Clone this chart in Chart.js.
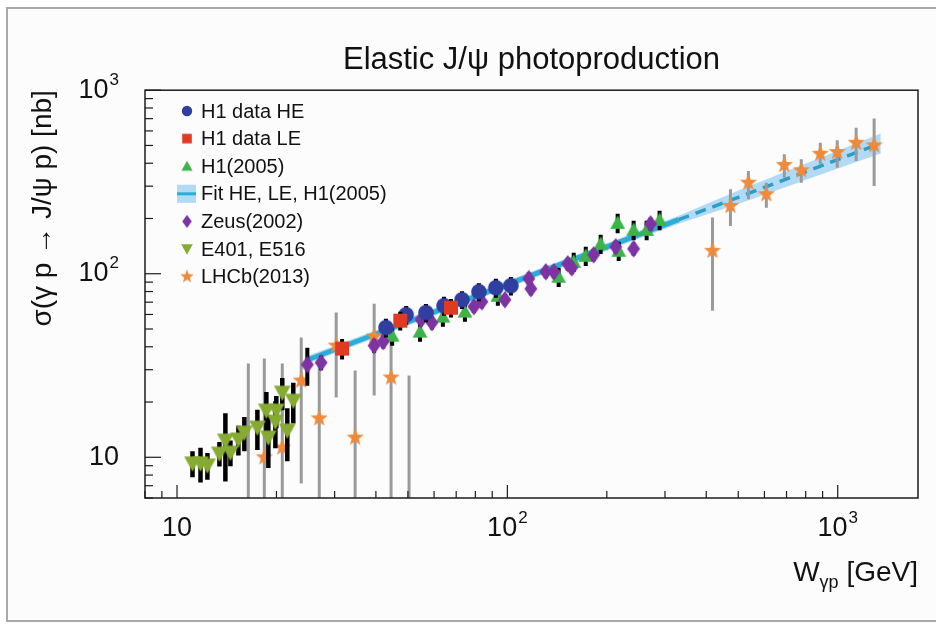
<!DOCTYPE html>
<html>
<head>
<meta charset="utf-8">
<script src="https://cdn.jsdelivr.net/npm/chart.js@4.4.1/dist/chart.umd.min.js"></script>
<style>
  html, body { margin: 0; padding: 0; background: #fff; }
  #wrap { width: 936px; height: 627px; }
</style>
</head>
<body>
<div id="wrap"><canvas id="chart" width="936" height="627"></canvas></div>
<script>
// H1 data HE
const heW = [42.9, 49.4, 56.7, 64.3, 72.9, 82.0, 92.3, 102.5];
const heSigma = [50.9, 59.8, 61.4, 67.0, 72.2, 79.8, 83.9, 86.1];
const heErr = [6, 7, 7, 8, 8, 9, 10, 10];

// H1 data LE
const leW = [31.6, 47.4, 67.5];
const leSigma = [39.1, 55.5, 65.3];
const leErr = [5, 6.5, 7.5];

// H1(2005)
const h05W = [44.8, 54.4, 63.8, 74.4, 93.6, 143.0, 158.8, 172.7, 191.6, 215.7, 217.3, 241.1, 264.0, 288.9];
const h05Sigma = [46.0, 48.4, 58.4, 62.2, 75.9, 96.3, 116.2, 125.3, 145.6, 189.3, 133.4, 173.4, 173.4, 196.6];
const h05Err = [5.5, 5.8, 7, 7.5, 9, 11.5, 14, 15, 17.5, 23, 16, 21, 21, 24];

// Zeus(2002)
const zeusW = [24.8, 27.3, 39.5, 42.1, 54.8, 59.1, 79.2, 83.7, 98.3, 116.1, 117.8, 130.7, 138.2, 152.3, 156.6, 182.5, 212.7, 241.1, 271.3];
const zeusSigma = [32.0, 32.8, 40.6, 42.7, 56.2, 54.2, 66.2, 70.4, 72.2, 94.0, 82.9, 102.5, 102.5, 113.3, 107.8, 126.9, 140.2, 136.8, 187.0];
const zeusErr = [7.5, 3, 3.5, 3.5, 4.5, 4.5, 5, 5.5, 5.5, 7.5, 6.5, 8, 8, 9, 8.5, 10, 11, 11, 15];

// E401, E516
const e401W = [11.14, 11.78, 12.36, 13.44, 14.01, 14.51, 15.34, 15.99, 17.51, 18.64, 18.90, 19.85, 19.98, 20.83, 21.57, 22.49];
const e401Sigma = [9.28, 9.28, 9.05, 10.5, 12.37, 10.64, 12.53, 13.67, 14.56, 18.0, 12.84, 15.69, 18.0, 22.56, 14.02, 20.40];
const e401Err = [1.5, 2.0, 1.5, 1.6, 5.0, 1.7, 2.3, 2.9, 3.6, 4.7, 4.1, 4.5, 3.6, 4.5, 4.5, 5.1];

// LHCb(2013), asymmetric errors given as low / high ends
const lhcbW = [16.44, 18.38, 20.83, 23.77, 26.95, 30.33, 34.61, 39.52, 44.46, 50.4, 417.8, 473.5, 536.6, 608.1, 689.2, 775.7, 885.4, 996.5, 1137, 1289];
const lhcbSigma = [4, 10.0, 11.3, 26.2, 16.3, 40.6, 12.8, 45.5, 27.2, 3, 133.4, 234.2, 313.4, 271.2, 391.3, 366.1, 450.6, 460.3, 517.2, 500.6];
const lhcbLo = [1, 1, 1, 7.2, 1, 21.2, 1, 21.7, 1, 1, 62.9, 182.3, 254.7, 229.2, 333.7, 313.4, 394.7, 378.2, 411.3, 300.7];
const lhcbHi = [32.4, 34.5, 32.4, 44.9, 32.8, 61.4, 29.7, 68.7, 44.3, 27.9, 202.3, 288.6, 362.9, 313.4, 447.2, 420.2, 517.2, 533.0, 624.0, 701.9];

// fit HE, LE, H1(2005): solid over the data range, dashed beyond
const fitW = [25, 50, 100, 200, 330];
const fitSigma = [34.1, 54.6, 87.5, 140, 197];
const extW = [330, 500, 1000, 1350];
const extSigma = [197, 261, 419, 513];
const bandW = [25, 50, 100, 200, 330, 500, 1000, 1350];
const bandHi = [35.8, 57.2, 91.5, 146.5, 207, 284, 468, 580];
const bandLo = [32.5, 52.1, 83.6, 133.6, 187, 240, 375, 452];

// axes
const xMajor = [10, 100, 1000];
const xMinor = [8, 9, 20, 30, 40, 50, 60, 70, 80, 90, 200, 300, 400, 500, 600, 700, 800, 900];
const xLabels = [['10', ''], ['10', '2'], ['10', '3']];
const yMajor = [10, 100, 1000];
const yMinor = [6, 7, 8, 9, 20, 30, 40, 50, 60, 70, 80, 90, 200, 300, 400, 500, 600, 700, 800, 900];
const yLabels = [['10', ''], ['10', '2'], ['10', '3']];

const FONT = '"Liberation Sans", Arial, Helvetica, sans-serif';

const colors = {
  blue: '#2f3e9f',
  red: '#e03a22',
  green: '#3db34a',
  purple: '#7d33a1',
  olive: '#86aa32',
  orange: '#ef8a3b',
  gray: '#9a9a9a',
  fit: '#2aaed8',
  fitDash: '#2a9ec6',
  band: 'rgba(130, 195, 238, 0.6)'
};

function marker(shape, color, s) {
  const c = document.createElement('canvas');
  const n = 2 * Math.ceil(s + 2);
  c.width = n; c.height = n;
  const g = c.getContext('2d');
  g.translate(n / 2, n / 2);
  g.fillStyle = color;
  g.beginPath();
  if (shape === 'circle') g.arc(0, 0, s, 0, Math.PI * 2);
  else if (shape === 'square') g.rect(-s, -s, 2 * s, 2 * s);
  else if (shape === 'up') { g.moveTo(0, -s); g.lineTo(s, s * 0.8); g.lineTo(-s, s * 0.8); }
  else if (shape === 'down') { g.moveTo(0, s); g.lineTo(s, -s * 0.8); g.lineTo(-s, -s * 0.8); }
  else if (shape === 'diamond') { g.moveTo(0, -s); g.lineTo(s * 0.74, 0); g.lineTo(0, s); g.lineTo(-s * 0.74, 0); }
  else if (shape === 'star') {
    for (let i = 0; i < 10; i++) {
      const r = i % 2 ? s * 0.42 : s;
      const t = -Math.PI / 2 + i * Math.PI / 5;
      g.lineTo(r * Math.cos(t), r * Math.sin(t));
    }
  }
  g.closePath();
  g.fill();
  return c;
}

function pts(xs, ys) {
  return xs.map((v, i) => ({x: v, y: ys[i]}));
}

function symBars(ys, es, color, width) {
  return {lo: ys.map((v, i) => v - es[i]), hi: ys.map((v, i) => v + es[i]), color: color, width: width};
}

function scatterSet(label, xs, ys, style, bars, order) {
  return {label: label, data: pts(xs, ys), pointStyle: style, pointRadius: 8, bars: bars, order: order, showLine: false};
}

const datasets = [
  scatterSet('H1 data LE', leW, leSigma, marker('square', colors.red, 7), symBars(leSigma, leErr, '#000', 4), 0),
  scatterSet('H1 data HE', heW, heSigma, marker('circle', colors.blue, 7.8), symBars(heSigma, heErr, '#000', 4), 1),
  scatterSet('Zeus(2002)', zeusW, zeusSigma, marker('diamond', colors.purple, 8.8), symBars(zeusSigma, zeusErr, '#000', 4), 2),
  scatterSet('H1(2005)', h05W, h05Sigma, marker('up', colors.green, 7.4), symBars(h05Sigma, h05Err, '#000', 4), 3),
  scatterSet('E401, E516', e401W, e401Sigma, marker('down', colors.olive, 8.4), symBars(e401Sigma, e401Err, '#000', 4.5), 4),
  scatterSet('LHCb(2013)', lhcbW, lhcbSigma, marker('star', colors.orange, 9), {lo: lhcbLo, hi: lhcbHi, color: colors.gray, width: 3}, 5),
  {label: 'fit', data: pts(fitW, fitSigma), showLine: true, pointRadius: 0, borderColor: colors.fit, borderWidth: 5, fill: false, order: 6},
  {label: 'fit ext', data: pts(extW, extSigma), showLine: true, pointRadius: 0, borderColor: colors.fitDash, borderWidth: 3.5, borderDash: [11, 7], fill: false, order: 7},
  {label: 'band hi', data: pts(bandW, bandHi), showLine: true, pointRadius: 0, borderWidth: 0, borderColor: 'rgba(0,0,0,0)', backgroundColor: colors.band, fill: '+1', order: 8},
  {label: 'band lo', data: pts(bandW, bandLo), showLine: true, pointRadius: 0, borderWidth: 0, borderColor: 'rgba(0,0,0,0)', fill: false, order: 9}
];

const legendItems = [
  ['H1 data HE', marker('circle', colors.blue, 5.2)],
  ['H1 data LE', marker('square', colors.red, 4.8)],
  ['H1(2005)', marker('up', colors.green, 5.6)],
  ['Fit HE, LE, H1(2005)', 'fit'],
  ['Zeus(2002)', marker('diamond', colors.purple, 6.5)],
  ['E401, E516', marker('down', colors.olive, 5.8)],
  ['LHCb(2013)', marker('star', colors.orange, 7)]
];

function powText(ctx, base, exp, x, y, align, size) {
  ctx.font = size + 'px ' + FONT;
  const wb = ctx.measureText(base).width;
  ctx.font = Math.round(size * 0.62) + 'px ' + FONT;
  const we = exp ? ctx.measureText(exp).width + 1 : 0;
  const total = wb + we;
  let x0 = align === 'right' ? x - total : x - total / 2;
  ctx.textAlign = 'left';
  ctx.textBaseline = 'middle';
  ctx.font = size + 'px ' + FONT;
  ctx.fillText(base, x0, y);
  if (exp) {
    ctx.font = Math.round(size * 0.62) + 'px ' + FONT;
    ctx.fillText(exp, x0 + wb + 1, y - size * 0.38);
  }
}

const errorBars = {
  id: 'errorBars',
  beforeDatasetDraw(chart, args) {
    const ds = chart.data.datasets[args.index];
    if (!ds.bars) return;
    const {ctx, chartArea: a, scales: {x, y}} = chart;
    ctx.save();
    ctx.beginPath();
    ctx.rect(a.left, a.top, a.right - a.left, a.bottom - a.top);
    ctx.clip();
    ctx.strokeStyle = ds.bars.color;
    ctx.lineWidth = ds.bars.width;
    ds.data.forEach((p, i) => {
      const px = x.getPixelForValue(p.x);
      ctx.beginPath();
      ctx.moveTo(px, y.getPixelForValue(ds.bars.hi[i]));
      ctx.lineTo(px, Math.min(y.getPixelForValue(Math.max(ds.bars.lo[i], 0.5)), a.bottom + 5));
      ctx.stroke();
    });
    ctx.restore();
  }
};

const rootFrame = {
  id: 'rootFrame',
  beforeDraw(chart) {
    const ctx = chart.ctx;
    ctx.save();
    ctx.fillStyle = '#fcfcfd';
    ctx.fillRect(7, 8, 940, 613);
    ctx.strokeStyle = '#a9a9a9';
    ctx.lineWidth = 2;
    ctx.strokeRect(7, 8, 940, 613);
    ctx.restore();
  },
  afterDraw(chart) {
    const {ctx, chartArea: a, scales: {x, y}} = chart;
    ctx.save();
    ctx.strokeStyle = '#1c1c1c';
    ctx.lineWidth = 1.5;
    ctx.strokeRect(a.left, a.top, a.right - a.left, a.bottom - a.top);
    ctx.lineWidth = 1.2;
    const tick = (x1, y1, x2, y2) => { ctx.beginPath(); ctx.moveTo(x1, y1); ctx.lineTo(x2, y2); ctx.stroke(); };
    xMajor.forEach(v => { const px = x.getPixelForValue(v); tick(px, a.bottom, px, a.bottom - 13); });
    xMinor.forEach(v => { const px = x.getPixelForValue(v); tick(px, a.bottom, px, a.bottom - 7); });
    yMajor.forEach(v => { const py = y.getPixelForValue(v); tick(a.left, py, a.left + 16, py); });
    yMinor.forEach(v => { const py = y.getPixelForValue(v); tick(a.left, py, a.left + 8, py); });

    ctx.fillStyle = '#111';
    xMajor.forEach((v, i) => powText(ctx, xLabels[i][0], xLabels[i][1], x.getPixelForValue(v), a.bottom + 31, 'center', 27));
    yMajor.forEach((v, i) => powText(ctx, yLabels[i][0], yLabels[i][1], a.left - 26, y.getPixelForValue(v), 'right', 27));

    // x title with subscript
    const big = '28px ' + FONT, small = '18px ' + FONT;
    ctx.font = big; const wW = ctx.measureText('W').width; const wRest = ctx.measureText(' [GeV]').width;
    ctx.font = small; const wSub = ctx.measureText('γp').width;
    let xt = a.right - (wW + wSub + wRest);
    ctx.textAlign = 'left'; ctx.textBaseline = 'alphabetic';
    ctx.font = big; ctx.fillText('W', xt, 581);
    ctx.font = small; ctx.fillText('γp', xt + wW, 588);
    ctx.font = big; ctx.fillText(' [GeV]', xt + wW + wSub, 581);

    // y title
    ctx.save();
    ctx.translate(43, a.top);
    ctx.rotate(-Math.PI / 2);
    ctx.textAlign = 'right';
    ctx.textBaseline = 'middle';
    ctx.font = '28px ' + FONT;
    ctx.fillText('σ(γ p → J/ψ p) [nb]', 0, 0);
    ctx.restore();

    // legend
    ctx.font = '20px ' + FONT;
    ctx.textAlign = 'left';
    ctx.textBaseline = 'middle';
    legendItems.forEach((item, i) => {
      const ly = 111 + i * 27.6;
      const mx = 187;
      if (item[1] === 'fit') {
        ctx.fillStyle = colors.band;
        ctx.fillRect(mx - 10, ly - 9, 19, 18);
        ctx.fillStyle = colors.fit;
        ctx.fillRect(mx - 10, ly - 1.5, 19, 3);
      } else {
        const m = item[1];
        ctx.drawImage(m, mx - m.width / 2, ly - m.height / 2);
      }
      ctx.fillStyle = '#111';
      ctx.fillText(item[0], 201, ly + 1);
    });
    ctx.restore();
  }
};

new Chart(document.getElementById('chart'), {
  type: 'scatter',
  data: {datasets: datasets},
  options: {
    responsive: false,
    animation: false,
    events: [],
    layout: {padding: {left: 145, right: 18, top: 0, bottom: 129}},
    scales: {
      x: {type: 'logarithmic', min: 8, max: 1750, display: false},
      y: {type: 'logarithmic', min: 6, max: 1000, display: false}
    },
    plugins: {
      legend: {display: false},
      tooltip: {enabled: false},
      title: {
        display: true,
        text: 'Elastic J/ψ photoproduction',
        color: '#111',
        font: {family: FONT, size: 31, weight: 'normal'},
        padding: {top: 42, bottom: 11}
      }
    }
  },
  plugins: [errorBars, rootFrame]
});
</script>
</body>
</html>
